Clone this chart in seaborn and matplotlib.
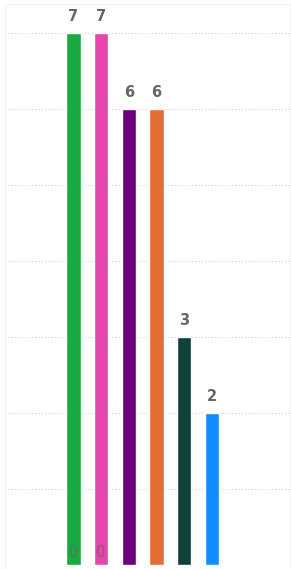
import matplotlib
matplotlib.use("Agg")
import matplotlib.pyplot as plt
import seaborn as sns
import pandas as pd

# dados do gráfico
categorias = ["A", "B", "C", "D", "E", "F"]
valores = [7, 7, 6, 6, 3, 2]
base_labels = [0, 0, None, None, None, None]
cores = ["#1AAB40", "#E645AB", "#6B007B", "#E66C37", "#0F413A", "#118DFF"]

df = pd.DataFrame({"categoria": categorias, "valor": valores})

sns.set_style("white")
fig = plt.figure(figsize=(2.91, 5.69), dpi=100)
ax = fig.add_axes([8 / 291, 4 / 569, 282 / 291, 561 / 569])

sns.barplot(data=df, x="categoria", y="valor", hue="categoria",
            palette=cores, width=0.52, legend=False, ax=ax, saturation=1)

# grade pontilhada
ax.set_ylim(0, 561 / 76)
ax.set_xlim(-2.36, 7.82)
ax.yaxis.grid(True, linestyle=(0, (1, 2)), color="#cfcfcf", linewidth=0.8)
ax.set_axisbelow(True)
for s in ax.spines.values():
    s.set_visible(False)
ax.set_xticks([])
ax.set_yticks(range(0, 8))
ax.tick_params(left=False, labelleft=False)
ax.set_xlabel("")
ax.set_ylabel("")

for i, v in enumerate(valores):
    ax.text(i, v + 0.12, str(v), ha="center", va="bottom", fontsize=10.5,
            fontweight="bold", color="#666666")
for i, b in enumerate(base_labels):
    if b is not None:
        ax.text(i, 0.06, str(b), ha="center", va="bottom", fontsize=10.5,
                color="#666666", alpha=0.75)

# moldura clara
fig.patches.append(plt.Rectangle((5 / 291, 0), 285 / 291, 565 / 569,
                                 transform=fig.transFigure, fill=False,
                                 edgecolor="#f2f2f2", linewidth=0.8))

fig.savefig("out.png", dpi=100)
